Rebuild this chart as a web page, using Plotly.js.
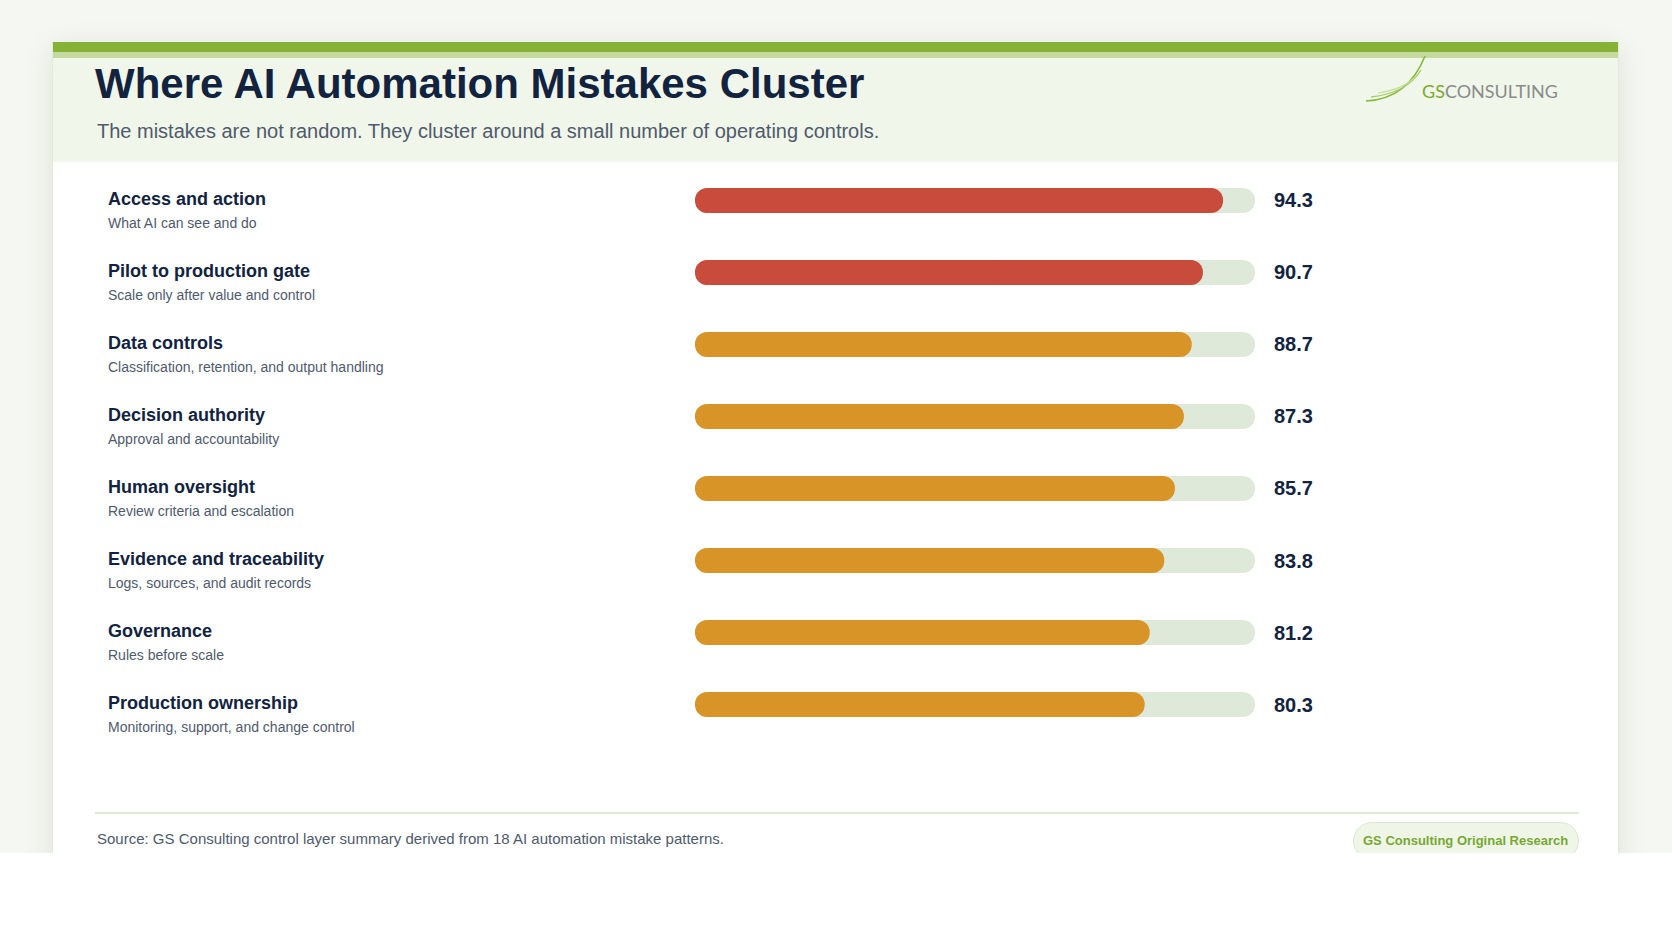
<!DOCTYPE html>
<html>
<head>
<meta charset="utf-8">
<script src="https://cdn.plot.ly/plotly-3.0.1.min.js"></script>
<style>
  html, body { margin:0; padding:0; }
  body { width:1672px; height:941px; position:relative; overflow:hidden; background:#f5f7f2; }
  #card { position:absolute; left:52px; top:42px; width:1567px; height:830px; background:#ffffff;
          overflow:hidden; box-shadow: 0 6px 28px rgba(40,60,20,0.10); border-left:1px solid #e2ebd9; border-right:1px solid #e2ebd9; box-sizing:border-box; }
  #cut { position:absolute; left:0; top:853px; width:1672px; height:88px; background:#ffffff; }
  #bar1 { position:absolute; left:0; top:0; width:100%; height:10px; background:#86b336; }
  #bar2 { position:absolute; left:0; top:10px; width:100%; height:6px; background:#c4da9e; }
  #head { position:absolute; left:0; top:16px; width:100%; height:104px; background:#f0f6ea; }
  #rule { position:absolute; left:42px; top:770px; width:1484px; height:2px; background:#dfe9d5; }
  #pill { position:absolute; left:1300px; top:780px; width:226px; height:38px; border-radius:19px;
          background:#eff6e8; border:1px solid #dbe8cf; box-sizing:border-box; }
  #logo { position:absolute; left:0; top:0; }
  #plot { position:absolute; left:0; top:0; width:1672px; height:941px; }
</style>
</head>
<body>
<div id="card">
  <div id="bar1"></div><div id="bar2"></div><div id="head"></div>
  <div id="rule"></div><div id="pill"></div>
</div>
<div id="cut"></div>
<svg id="logo" width="1672" height="941">
  <path d="M1366,101 Q1408,99 1425,56" fill="none" stroke="#86b83a" stroke-width="1.6"/>
  <path d="M1371,97 Q1407,93 1421,70" fill="none" stroke="#a6cc68" stroke-width="1.3"/>
  <path d="M1378,93 Q1403,89 1414,78" fill="none" stroke="#c3de95" stroke-width="1.1"/>
</svg>
<div id="plot"></div>
<script>
const categories = ["Access and action","Pilot to production gate","Data controls","Decision authority",
  "Human oversight","Evidence and traceability","Governance","Production ownership"];
const descriptions = ["What AI can see and do","Scale only after value and control",
  "Classification, retention, and output handling","Approval and accountability",
  "Review criteria and escalation","Logs, sources, and audit records","Rules before scale",
  "Monitoring, support, and change control"];
const values = [94.3, 90.7, 88.7, 87.3, 85.7, 83.8, 81.2, 80.3];
const tiers = ["high","high","mid","mid","mid","mid","mid","mid"];
const maxValue = 100;
const titleText = "Where AI Automation Mistakes Cluster";
const subtitleText = "The mistakes are not random. They cluster around a small number of operating controls.";
const sourceText = "Source: GS Consulting control layer summary derived from 18 AI automation mistake patterns.";
const badgeText = "GS Consulting Original Research";

const W = 1672, H = 941;
const px = x => x / W;
const py = y => 1 - y / H;
const tierColor = {high:"#c84b3c", mid:"#d99427"};
const colors = tiers.map(t => tierColor[t]);
const trackColor = "#dfe9da";
const barW = 25 / 72;

function half(xs, bases, col, name) {
  return {type:"bar", orientation:"h", y:categories, x:xs, base:bases, width:barW,
          marker:{color:col, cornerradius:"50%", line:{width:0}}, hoverinfo:"skip", name:name, showlegend:false};
}
const traces = [
  half(categories.map(() => maxValue*0.6), categories.map(() => maxValue*0.4), trackColor, "track-r"),
  half(categories.map(() => -maxValue*0.6), categories.map(() => maxValue*0.6), trackColor, "track-l"),
  half(values.map(v => v*0.6), values.map(v => v*0.4), colors, "val-r"),
  half(values.map(v => -v*0.6), values.map(v => v*0.6), colors, "val-l")
];

const FONT = "Liberation Sans, Arial, Helvetica, sans-serif";
const navy = "#12233f", slate = "#4f5a6c";
const ann = [];
ann.push({xref:"paper", yref:"paper", x:px(93), y:py(83), xanchor:"left", yanchor:"middle", showarrow:false,
  text:titleText, font:{family:FONT, size:42, weight:700, color:navy}});
ann.push({xref:"paper", yref:"paper", x:px(95), y:py(131), xanchor:"left", yanchor:"middle", showarrow:false,
  text:subtitleText, font:{family:FONT, size:20, color:slate}});
ann.push({xref:"paper", yref:"paper", x:px(1420), y:py(91), xanchor:"left", yanchor:"middle", showarrow:false,
  text:'<span style="color:#7aab2e">GS</span>CONSULTING', font:{family:"Lato, Open Sans, sans-serif", size:18, color:"#8a8c8c"}});
categories.forEach((c, i) => {
  ann.push({xref:"paper", yref:"y", x:px(106), y:c, yshift:1.5, xanchor:"left", yanchor:"middle", showarrow:false,
    text:c, font:{family:FONT, size:18, weight:700, color:navy}});
  ann.push({xref:"paper", yref:"y", x:px(106), y:c, yshift:-22.5, xanchor:"left", yanchor:"middle", showarrow:false,
    text:descriptions[i], font:{family:FONT, size:14, color:slate}});
  ann.push({xref:"x", yref:"y", x:maxValue, y:c, xshift:17, yshift:0, xanchor:"left", yanchor:"middle", showarrow:false,
    text:values[i].toFixed(1), font:{family:FONT, size:20, weight:700, color:navy}});
});
ann.push({xref:"paper", yref:"paper", x:px(95), y:py(838.5), xanchor:"left", yanchor:"middle", showarrow:false,
  text:sourceText, font:{family:FONT, size:15, color:slate}});
ann.push({xref:"paper", yref:"paper", x:px(1465), y:py(840.5), xanchor:"center", yanchor:"middle", showarrow:false,
  text:badgeText, font:{family:FONT, size:13, weight:700, color:"#77a832"}});

const layout = {
  width:W, height:H, margin:{l:0, r:0, t:0, b:0},
  paper_bgcolor:"rgba(0,0,0,0)", plot_bgcolor:"rgba(0,0,0,0)",
  barmode:"overlay", showlegend:false,
  xaxis:{domain:[px(695), px(1255)], range:[0, maxValue], visible:false, fixedrange:true},
  yaxis:{domain:[py(740.5), py(164.5)], type:"category", categoryorder:"array", categoryarray:categories,
         range:[categories.length - 0.5, -0.5], visible:false, fixedrange:true},
  annotations:ann
};
Plotly.newPlot("plot", traces, layout, {displayModeBar:false, staticPlot:true});
</script>
</body>
</html>
